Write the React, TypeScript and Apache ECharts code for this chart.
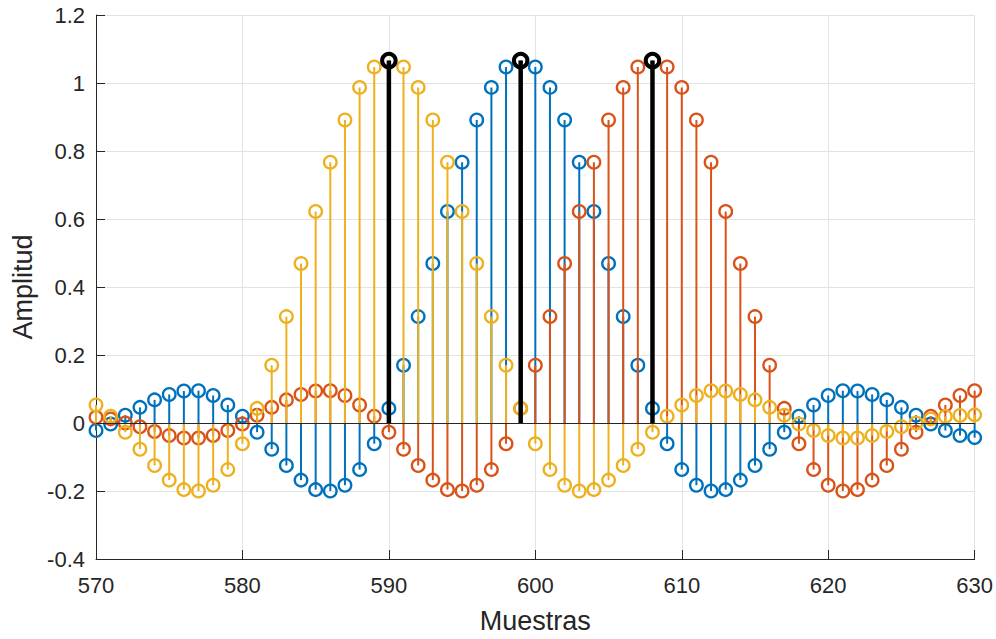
import React, { useEffect, useRef } from "react";
import * as echarts from "echarts";

// Sample index axis (Muestras)
const samples: number[] = Array.from({ length: 61 }, (_, i) => 570 + i);

// Pulse centred at 599 (blue)
const pulseBlue: number[] = [
  -0.022, -0.003, 0.023, 0.046, 0.068, 0.084, 0.094, 0.095, 0.081, 0.053,
  0.020, -0.027, -0.077, -0.125, -0.168, -0.196, -0.200, -0.183, -0.137, -0.061,
  0.043, 0.170, 0.313, 0.469, 0.622, 0.767, 0.891, 0.987, 1.047, 1.066,
  1.047, 0.987, 0.891, 0.767, 0.622, 0.469, 0.313, 0.170, 0.043, -0.061,
  -0.137, -0.183, -0.200, -0.196, -0.168, -0.125, -0.077, -0.027, 0.020, 0.053,
  0.081, 0.095, 0.094, 0.084, 0.068, 0.046, 0.023, -0.003, -0.022, -0.037,
  -0.043,
];

// Pulse centred at 608 (orange)
const pulseRed: number[] = [
  0.017, 0.012, 0.000, -0.011, -0.025, -0.037, -0.044, -0.044, -0.037, -0.022,
  -0.003, 0.023, 0.046, 0.068, 0.084, 0.094, 0.095, 0.081, 0.053, 0.020,
  -0.027, -0.077, -0.125, -0.168, -0.196, -0.200, -0.183, -0.137, -0.061, 0.043,
  0.170, 0.313, 0.469, 0.622, 0.767, 0.891, 0.987, 1.047, 1.066, 1.047,
  0.987, 0.891, 0.767, 0.622, 0.469, 0.313, 0.170, 0.043, -0.061, -0.137,
  -0.183, -0.200, -0.196, -0.168, -0.125, -0.077, -0.027, 0.020, 0.053, 0.081,
  0.095,
];

// Pulse centred at 590 (yellow)
const pulseYellow: number[] = [
  0.053, 0.020, -0.027, -0.077, -0.125, -0.168, -0.196, -0.200, -0.183, -0.137,
  -0.061, 0.043, 0.170, 0.313, 0.469, 0.622, 0.767, 0.891, 0.987, 1.047,
  1.066, 1.047, 0.987, 0.891, 0.767, 0.622, 0.469, 0.313, 0.170, 0.043,
  -0.061, -0.137, -0.183, -0.200, -0.196, -0.168, -0.125, -0.077, -0.027, 0.020,
  0.053, 0.081, 0.095, 0.094, 0.084, 0.068, 0.046, 0.023, -0.003, -0.022,
  -0.037, -0.044, -0.044, -0.037, -0.025, -0.011, 0.000, 0.012, 0.019, 0.022,
  0.024,
];

// Highlighted sampling instants (pulse peaks)
const peakSamples: number[] = [590, 599, 608];

const xTicks = { min: 570, max: 630, step: 10 };
const yTicks = { min: -0.4, max: 1.2, step: 0.2 };

const BLUE = "#0072BD";
const RED = "#D95319";
const YELLOW = "#EDB120";
const AXIS = "#262626";
const FONT = "'Liberation Sans', Arial, Helvetica, sans-serif";

function stemLines(color: string, width: number) {
  return (_params: any, api: any) => {
    const x = api.value(0);
    const y = api.value(1);
    const p0 = api.coord([x, 0]);
    const p1 = api.coord([x, y]);
    return {
      type: "line",
      shape: { x1: p0[0], y1: p0[1], x2: p1[0], y2: p1[1] },
      style: { stroke: color, lineWidth: width },
    };
  };
}

function stemMarkers(color: string, r: number, width: number) {
  return (_params: any, api: any) => {
    const p = api.coord([api.value(0), api.value(1)]);
    return {
      type: "circle",
      shape: { cx: p[0], cy: p[1], r },
      style: { fill: "none", stroke: color, lineWidth: width },
    };
  };
}

function pairs(values: number[]): number[][] {
  return samples.map((s, i) => [s, values[i]]);
}

export default function App() {
  const ref = useRef<HTMLDivElement>(null);

  useEffect(() => {
    if (!ref.current) return;
    const chart = echarts.init(ref.current, undefined, { renderer: "svg" });

    const peaks = peakSamples.map((s) => {
      const i = s - samples[0];
      const all = [pulseYellow[i], pulseBlue[i], pulseRed[i]];
      return [s, Math.max(...all)];
    });

    const colored: [string, number[]][] = [
      [BLUE, pulseBlue],
      [RED, pulseRed],
      [YELLOW, pulseYellow],
    ];

    const series: any[] = [];
    colored.forEach(([color, vals]) => {
      series.push({
        type: "custom",
        renderItem: stemLines(color, 2),
        data: pairs(vals),
        silent: true,
      });
      series.push({
        type: "custom",
        renderItem: stemMarkers(color, 6.3, 2.3),
        data: pairs(vals),
        silent: true,
      });
    });
    series.push({
      type: "custom",
      renderItem: stemLines("#000000", 4.5),
      data: peaks,
      silent: true,
      markLine: {
        silent: true,
        symbol: ["none", "none"],
        label: { show: false },
        lineStyle: { color: AXIS, width: 1, type: "solid" },
        data: [{ yAxis: 0 }],
      },
    });
    series.push({
      type: "custom",
      renderItem: stemMarkers("#000000", 6.8, 4),
      data: peaks,
      silent: true,
    });

    chart.setOption({
      animation: false,
      backgroundColor: "#ffffff",
      grid: { left: 96, right: 21, top: 15, bottom: 80 },
      xAxis: {
        type: "value",
        min: xTicks.min,
        max: xTicks.max,
        interval: xTicks.step,
        name: "Muestras",
        nameLocation: "middle",
        nameGap: 48,
        nameTextStyle: { color: AXIS, fontSize: 27, fontFamily: FONT },
        axisLine: { show: true, onZero: false, lineStyle: { color: AXIS, width: 1 } },
        axisTick: { show: true, inside: true, length: 9, lineStyle: { color: AXIS } },
        axisLabel: { color: AXIS, fontSize: 22, fontFamily: FONT, margin: 15 },
        splitLine: { show: true, lineStyle: { color: "#e3e3e3", width: 1 } },
      },
      yAxis: {
        type: "value",
        min: yTicks.min,
        max: yTicks.max,
        interval: yTicks.step,
        name: "Amplitud",
        nameLocation: "middle",
        nameGap: 58,
        nameTextStyle: { color: AXIS, fontSize: 27, fontFamily: FONT },
        axisLine: { show: true, lineStyle: { color: AXIS, width: 1 } },
        axisTick: { show: true, inside: true, length: 9, lineStyle: { color: AXIS } },
        axisLabel: {
          color: AXIS,
          fontSize: 22,
          fontFamily: FONT,
          margin: 11,
          formatter: (v: number) => String(Number(v.toFixed(1))),
        },
        splitLine: { show: true, lineStyle: { color: "#e3e3e3", width: 1 } },
      },
      series,
    });

    return () => chart.dispose();
  }, []);

  return (
    <div
      ref={ref}
      style={{ position: "absolute", left: 0, top: 0, width: 996, height: 639, background: "#fff" }}
    />
  );
}
